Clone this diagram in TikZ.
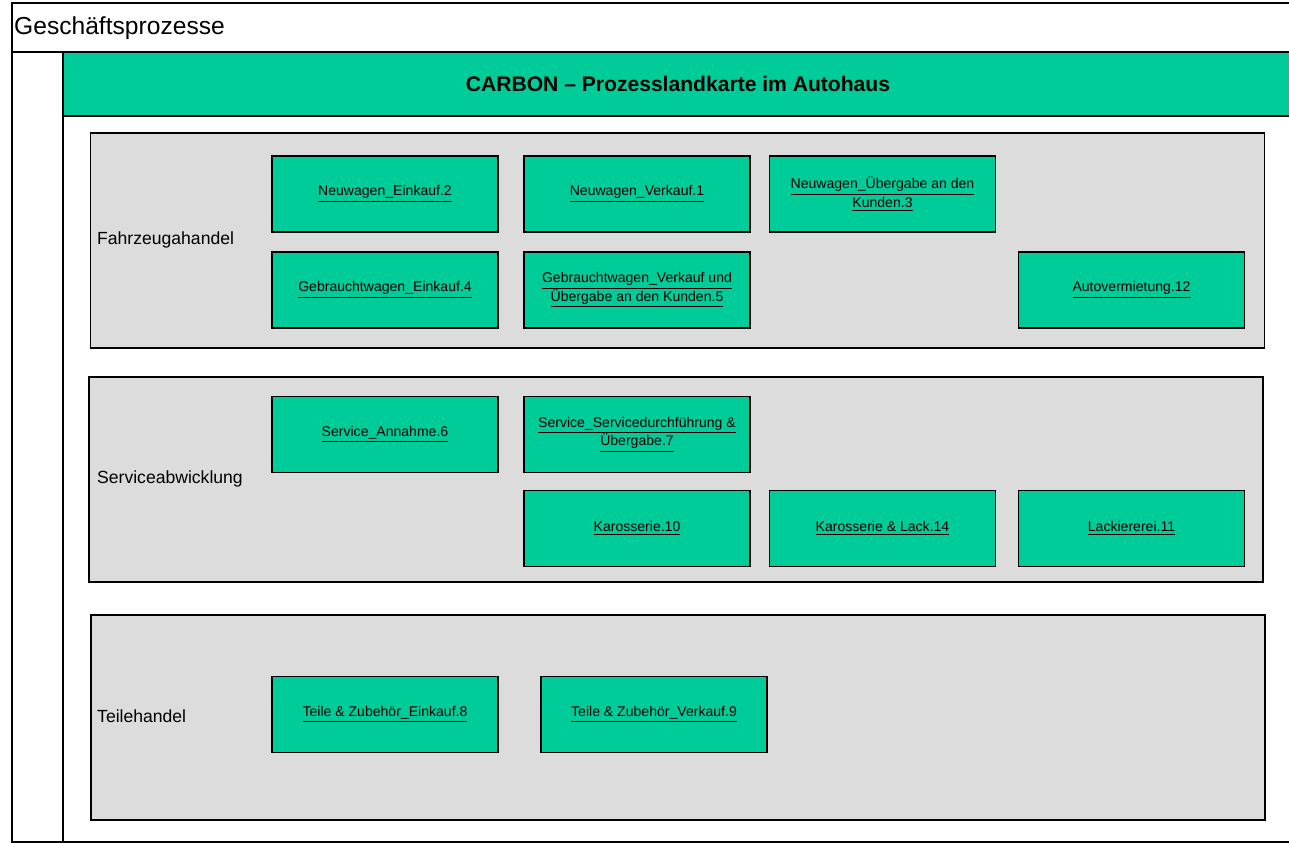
\documentclass[tikz,border=0pt]{standalone}
\usepackage{fontspec}
\setmainfont{Liberation Sans}
\definecolor{procgreen}{HTML}{00CC99}
\definecolor{lanegray}{HTML}{DCDCDC}
\newcommand{\lnk}[1]{\underline{#1}}
\newcommand{\procfont}{\fontsize{8}{10.5}\selectfont\lineskiplimit=-10pt\relax}
\begin{document}
\begin{tikzpicture}[x=0.2mm,y=-0.2mm]
\useasboundingbox (0,0) rectangle (1289,843);
\tikzstyle{proc}=[draw,line width=0.7pt,fill=procgreen,minimum width=45.2mm,minimum height=15.2mm,align=center,inner sep=1pt,font=\procfont]
\tikzstyle{lane}=[draw,line width=0.7pt,fill=lanegray,minimum width=234.8mm]
\tikzstyle{lanelabel}=[anchor=west,font=\fontsize{10}{12}\selectfont]
% rahmen
\draw[line width=1pt] (1295,3) -- (12,3) -- (12,842) -- (1295,842);
\draw[line width=1pt] (12,52) -- (1295,52);
\node[anchor=west,font=\fontsize{14}{16}\selectfont](titel) at (8,28) {Geschäftsprozesse};
\draw[line width=1pt,fill=procgreen] (63,52) rectangle (1295,116);
\draw[line width=1pt] (63,116) -- (63,842);
\node[font=\bfseries\fontsize{12}{14}\selectfont](band) at (678,84) {CARBON -- Prozesslandkarte im Autohaus};
% bereiche
\node[lane,minimum height=43mm](fz) at (677.5,240.5) {};
\node[lane,minimum height=41mm](sv) at (676,479.5) {};
\node[lane,minimum height=41mm](th) at (678,717.5) {};
\node[lanelabel](lfz) at (91,240) {Fahrzeugahandel};
\node[lanelabel](lsv) at (91,479) {Serviceabwicklung};
\node[lanelabel](lth) at (91,716) {Teilehandel};
% prozesse
\node[proc](p2) at (385,194) {\lnk{Neuwagen\_Einkauf.2}};
\node[proc](p1) at (637,194) {\lnk{Neuwagen\_Verkauf.1}};
\node[proc](p3) at (882.5,194) {\lnk{Neuwagen\_Übergabe an den}\\\lnk{Kunden.3}};
\node[proc](p4) at (385,290) {\lnk{Gebrauchtwagen\_Einkauf.4}};
\node[proc](p5) at (637,290) {\lnk{Gebrauchtwagen\_Verkauf und}\\\lnk{Übergabe an den Kunden.5}};
\node[proc](p12) at (1131.5,290) {\lnk{Autovermietung.12}};
\node[proc](p6) at (385,434.5) {\lnk{Service\_Annahme.6}};
\node[proc](p7) at (637,434.5) {\lnk{Service\_Servicedurchführung \&}\\\lnk{Übergabe.7}};
\node[proc](p10) at (637,528.5) {\lnk{Karosserie.10}};
\node[proc](p14) at (882.5,528.5) {\lnk{Karosserie \& Lack.14}};
\node[proc](p11) at (1131.5,528.5) {\lnk{Lackiererei.11}};
\node[proc](p8) at (385,714.5) {\lnk{Teile \& Zubehör\_Einkauf.8}};
\node[proc](p9) at (654,714.5) {\lnk{Teile \& Zubehör\_Verkauf.9}};
\end{tikzpicture}
\end{document}
